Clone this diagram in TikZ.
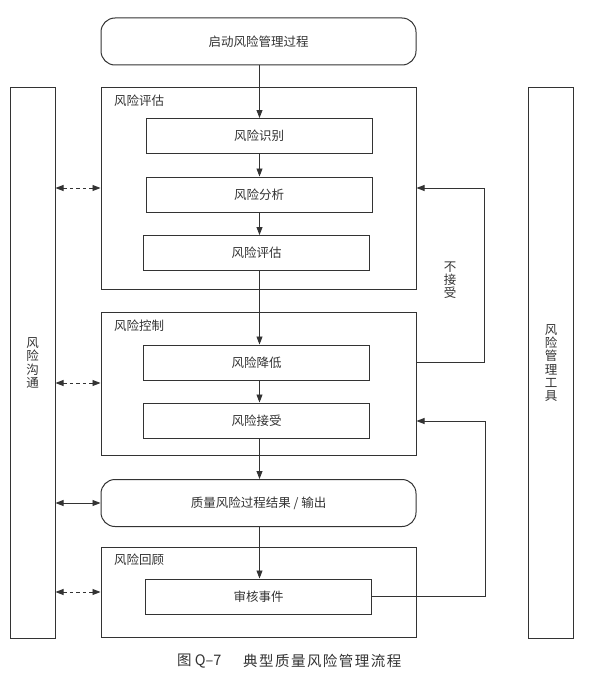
\documentclass[tikz,border=0pt]{standalone}
\usepackage{fontspec}
\setmainfont{Noto Sans CJK SC}
\usetikzlibrary{arrows.meta,calc}
\definecolor{ln}{HTML}{333333}
\tikzset{
  box/.style={draw=ln,line width=1pt,minimum width=226pt,minimum height=35pt,inner sep=0pt,font=\fontsize{12.5}{14}\selectfont,text=ln},
  rbox/.style={draw=ln,line width=1pt,rounded corners=14pt,minimum width=315pt,minimum height=47pt,inner sep=0pt,font=\fontsize{12.5}{14}\selectfont,text=ln},
  grp/.style={draw=ln,line width=1pt,inner sep=0pt,minimum width=315pt},
  bar/.style={draw=ln,line width=1pt,inner sep=0pt,minimum width=45pt,minimum height=551pt},
  glabel/.style={anchor=west,inner sep=0pt,font=\fontsize{12.5}{14}\selectfont,text=ln},
  vtext/.style={align=center,inner sep=0pt,font=\fontsize{12.5}{13.3}\selectfont,text=ln},
  arr/.style={draw=ln,line width=0.9pt,-{Triangle[length=8pt,width=6pt]}},
  dblarr/.style={draw=ln,line width=0.9pt,{Triangle[length=8pt,width=6pt]}-{Triangle[length=8pt,width=6pt]}},
  dasharr/.style={dblarr,dash pattern=on 3.5pt off 3pt},
  plain/.style={draw=ln,line width=0.9pt}
}
\begin{document}
\begin{tikzpicture}[x=1pt,y=-1pt]
\useasboundingbox (0,0) rectangle (599,693);
% side bars
\node[bar] (comm) at (32.5,362.5) {};
\node[bar] (tool) at (551,362.5) {};
\node[vtext] (commt) at (32.5,363) {风\\险\\沟\\通};
\node[vtext] (toolt) at (551,363) {风\\险\\管\\理\\工\\具};
% top
\node[rbox] (start) at (258.5,41.5) {启动风险管理过程};
% groups
\node[grp,minimum height=202pt] (eval) at (258.5,188) {};
\node[glabel] (evall) at (114,101) {风险评估};
\node[grp,minimum height=143pt] (ctrl) at (258.5,383.5) {};
\node[glabel] (ctrll) at (114,326) {风险控制};
\node[grp,minimum height=90pt] (rev) at (258.5,592.5) {};
\node[glabel] (revl) at (114,560) {风险回顾};
% inner boxes
\node[box] (ident) at (259,136) {风险识别};
\node[box] (anal) at (259,194.5) {风险分析};
\node[box] (ass) at (256.5,253) {风险评估};
\node[box] (red) at (256.5,362.5) {风险降低};
\node[box] (acc) at (256.5,420.5) {风险接受};
\node[rbox] (out) at (258.5,503) {质量风险过程结果 / 输出};
\node[box] (audit) at (258.5,596.5) {审核事件};
% main chain
\coordinate (cx) at (259.5,0);
\draw[arr] (cx |- start.south) -- (cx |- ident.north);
\draw[arr] (cx |- ident.south) -- (cx |- anal.north);
\draw[arr] (cx |- anal.south) -- (cx |- ass.north);
\draw[arr] (cx |- ass.south) -- (cx |- red.north);
\draw[arr] (cx |- red.south) -- (cx |- acc.north);
\draw[arr] (cx |- acc.south) -- (cx |- out.north);
\draw[arr] (cx |- out.south) -- (cx |- audit.north);
% feedback
\coordinate (f1s) at (0,362);
\coordinate (f1t) at (484.5,188);
\draw[arr] (ctrl.east |- f1s) -| (f1t) -- (f1t -| eval.east);
\coordinate (f2t) at (485.5,421);
\draw[arr] (audit.east) -| (f2t) -- (f2t -| ctrl.east);
\node[vtext] (notacc) at (450,280) {不\\接\\受};
% left communication arrows
\coordinate (l1) at (0,188);
\coordinate (l2) at (0,383);
\coordinate (l3) at (0,503);
\coordinate (l4) at (0,592);
\draw[dasharr] (comm.east |- l1) -- (eval.west |- l1);
\draw[dasharr] (comm.east |- l2) -- (ctrl.west |- l2);
\draw[dblarr] (comm.east |- l3) -- (out.west |- l3);
\draw[dasharr] (comm.east |- l4) -- (rev.west |- l4);
% caption
\node[inner sep=0pt,font=\fontsize{14.5}{16}\selectfont,text=ln,anchor=west] (cap1) at (177,661) {图 Q–7};
\node[inner sep=0pt,font=\fontsize{14.5}{16}\selectfont\addfontfeatures{LetterSpace=10},text=ln,anchor=west] (cap2) at (243,661) {典型质量风险管理流程};
\end{tikzpicture}
\end{document}
